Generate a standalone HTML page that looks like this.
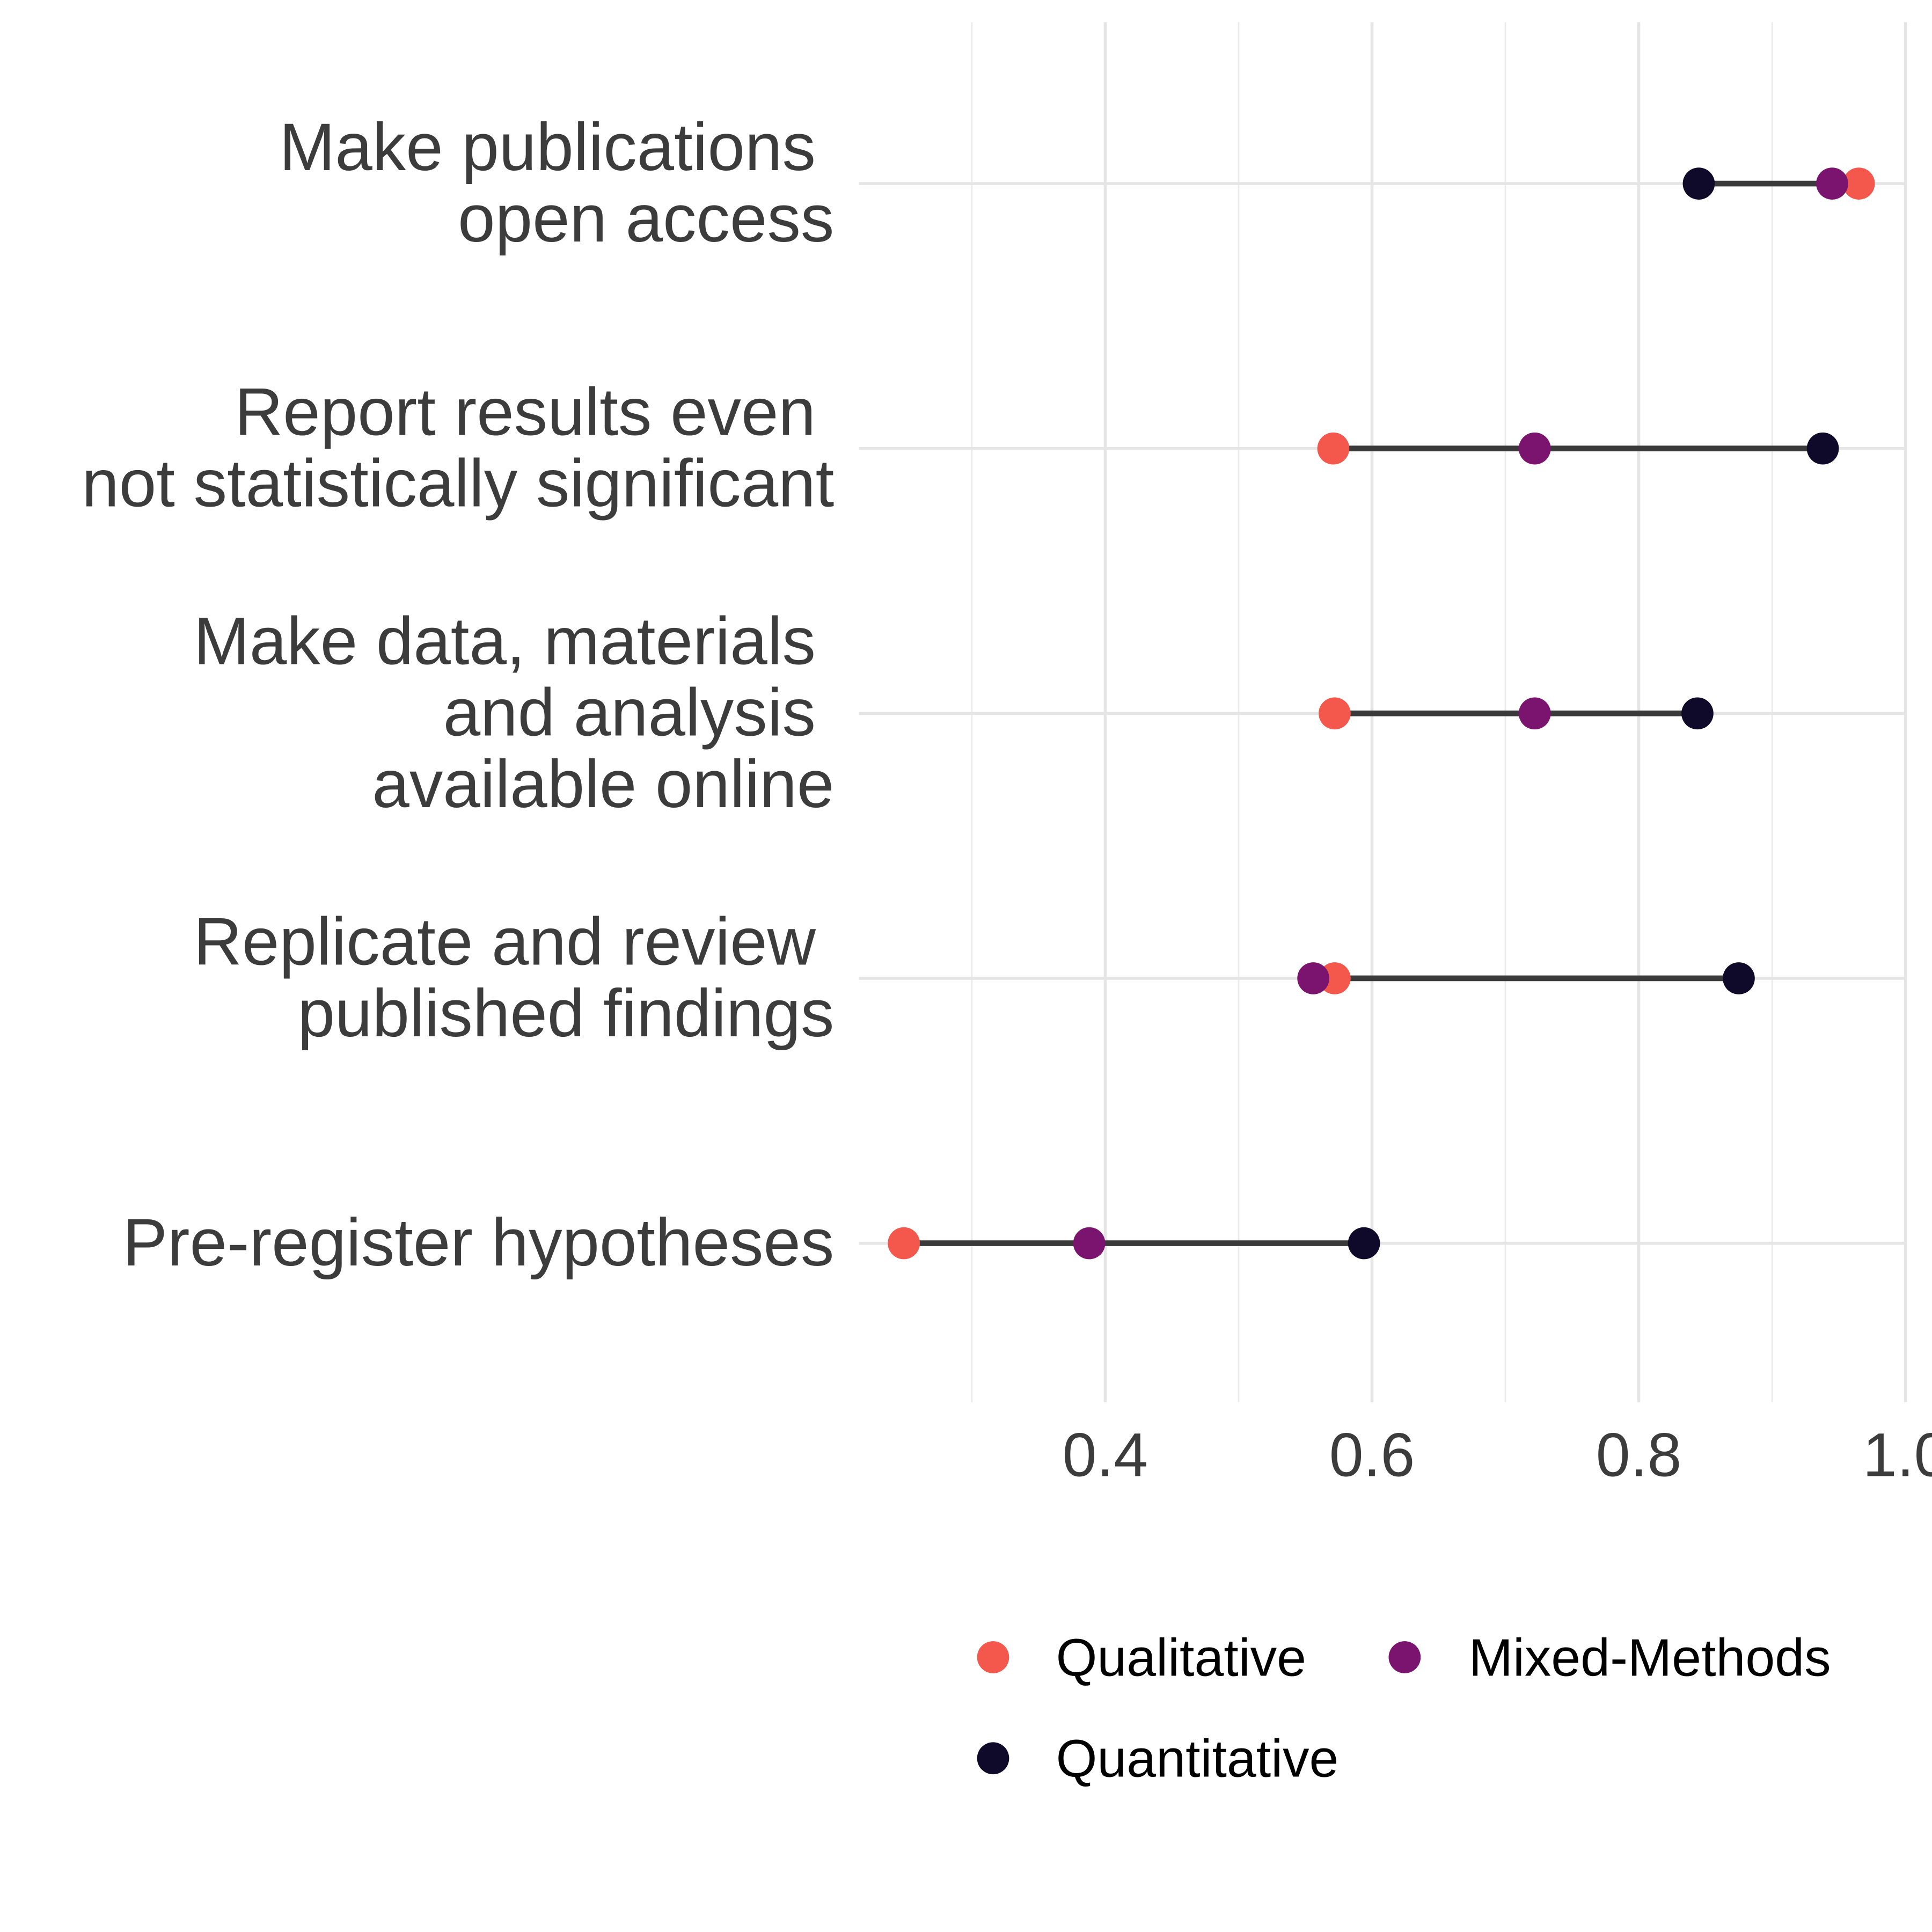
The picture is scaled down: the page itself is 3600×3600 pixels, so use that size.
<!DOCTYPE html>
<html><head><meta charset="utf-8"><style>
html,body{margin:0;padding:0;background:#fff;}
svg{display:block;}
text{font-family:"Liberation Sans",sans-serif;}
</style></head><body>
<svg id="chart" width="3600" height="3600" viewBox="0 0 1568 1568" xmlns="http://www.w3.org/2000/svg">
<rect width="1568" height="1568" fill="#fff"/>
<g id="grid"></g>
<g id="ylabels"></g>
<g id="xlabels"></g>
<g id="marks"></g>
<g id="legend">
<circle cx="806" cy="1345" r="13" fill="#F4584C"/>
<text x="857" y="1360" font-size="43" fill="#000">Qualitative</text>
<circle cx="1140" cy="1345" r="13" fill="#7A146E"/>
<text x="1192" y="1360" font-size="43" fill="#000">Mixed-Methods</text>
<circle cx="806" cy="1427" r="13" fill="#0F0A29"/>
<text x="857" y="1442" font-size="43" fill="#000">Quantitative</text>
</g>
</svg>
<script>
const categories = [
  ["Make publications ", "open access"],
  ["Report results even ", "not statistically significant"],
  ["Make data, materials ", "and analysis ", "available online"],
  ["Replicate and review ", "published findings"],
  ["Pre-register hypotheses"]
];
const qualitative = [0.965, 0.571, 0.572, 0.572, 0.249];
const mixedMethods = [0.945, 0.722, 0.722, 0.556, 0.388];
const quantitative = [0.845, 0.938, 0.844, 0.875, 0.594];
const majorTicks = [0.4, 0.6, 0.8, 1.0];
const tickLabels = ["0.4", "0.6", "0.8", "1.0"];
const minorTicks = [0.3, 0.5, 0.7, 0.9];

const NS = "http://www.w3.org/2000/svg";
function x(v){ return 897 + (v - 0.4) * 1082.5; }
function y(i){ return 149 + i * 215; }
function mk(tag, attrs, parent){
  const e = document.createElementNS(NS, tag);
  for (const k in attrs) e.setAttribute(k, attrs[k]);
  parent.appendChild(e); return e;
}
const grid = document.getElementById('grid');
const ylab = document.getElementById('ylabels');
const xlab = document.getElementById('xlabels');
const marks = document.getElementById('marks');
const panelTop = 18, panelBottom = 1138, panelLeft = 697, panelRight = 1546;

minorTicks.forEach(v => {
  const l = mk('line', {x1:x(v), x2:x(v), y1:panelTop, y2:panelBottom, stroke:'#EBEBEB', 'stroke-width':1.2}, grid);
  
  
});
majorTicks.forEach((v, i) => {
  const l = mk('line', {x1:x(v), x2:x(v), y1:panelTop, y2:panelBottom, stroke:'#E5E5E5', 'stroke-width':2.4}, grid);
  
  
  const t = mk('text', {x:x(v), y:1198, 'font-size':50, fill:'#3C3C3C', 'text-anchor':'middle'}, xlab);
  t.textContent = tickLabels[i];
  
  
});
categories.forEach((lines, i) => {
  const l = mk('line', {x1:panelLeft, x2:panelRight, y1:y(i), y2:y(i), stroke:'#E5E5E5', 'stroke-width':2.4}, grid);
  
  
  const lh = 58;
  const start = y(i) + 18 - (lines.length - 1) * lh / 2;
  const t = mk('text', {'font-size':54.4, fill:'#3C3C3C', 'text-anchor':'end'}, ylab);
  
  
  lines.forEach((s, j) => {
    const ts = mk('tspan', {x: s.endsWith(' ') ? 662 : 677, y: start + j * lh}, t);
    ts.textContent = s.trim();
  });
});
categories.forEach((c, i) => {
  const vals = [qualitative[i], mixedMethods[i], quantitative[i]];
  const seg = mk('line', {x1:x(Math.min(...vals)), x2:x(Math.max(...vals)), y1:y(i), y2:y(i), stroke:'#3A3A3A', 'stroke-width':4.6}, marks);
  
  
  const a = mk('circle', {cx:x(quantitative[i]), cy:y(i), r:13, fill:'#0F0A29'}, marks);
  
  
  const b = mk('circle', {cx:x(qualitative[i]), cy:y(i), r:13, fill:'#F4584C'}, marks);
  
  
  const m = mk('circle', {cx:x(mixedMethods[i]), cy:y(i), r:13, fill:'#7A146E'}, marks);
  
  
});
</script>
</body></html>
